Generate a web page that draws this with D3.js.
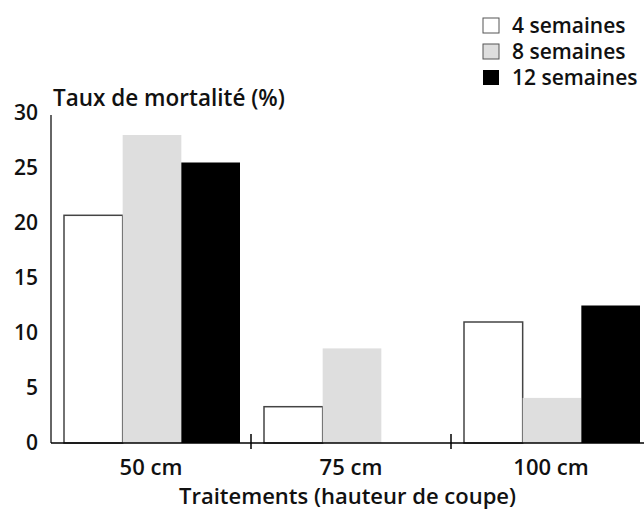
<!DOCTYPE html>
<html lang="fr">
<head>
    <meta charset="UTF-8">
    <title>Taux de mortalité</title>
    <script src="https://d3js.org/d3.v7.min.js"></script>
    <style>
        body {margin:0;background:#fff}
        text {font-family:"Open Sans", sans-serif;font-weight:600;fill:#111}
    </style>
</head>
<body>
    <div id="chart"></div>
    <script>
        // data
        var categories = ["50 cm", "75 cm", "100 cm"];
        var series = ["4 semaines", "8 semaines", "12 semaines"];
        var semaines4 = [20.7, 3.3, 11.0];
        var semaines8 = [28.0, 8.6, 4.1];
        var semaines12 = [25.5, 0, 12.5];
        var yTicks = [0, 5, 10, 15, 20, 25, 30];

        var w = 644, h = 511;
        var fills = {"4 semaines": "#fff", "8 semaines": "#dedede", "12 semaines": "#000"};
        var strokes = {"4 semaines": "#444", "8 semaines": "none", "12 semaines": "none"};

        var rows = categories.map(function(c, i) {
            return {cat: c, values: [
                {key: series[0], value: semaines4[i]},
                {key: series[1], value: semaines8[i]},
                {key: series[2], value: semaines12[i]}
            ]};
        });

        var svg = d3.select("#chart")
            .append("svg")
            .attr("width", w)
            .attr("height", h);

        var x0 = d3.scaleBand()
            .domain(categories)
            .range([51, 651]);

        var x1 = d3.scaleBand()
            .domain(series)
            .range([13, 189]);

        var y = d3.scaleLinear()
            .domain([0, 30])
            .range([443, 113]);

        // bars
        var groups = svg.selectAll("g.grp")
            .data(rows)
            .enter()
            .append("g")
            .attr("class", "grp")
            .attr("transform", d => `translate(${x0(d.cat)},0)`);

        groups.selectAll("rect")
            .data(d => d.values.filter(v => v.value > 0))
            .enter()
            .append("rect")
            .attr("x", d => x1(d.key))
            .attr("y", d => y(d.value))
            .attr("width", x1.bandwidth())
            .attr("height", d => y(0) - y(d.value))
            .attr("fill", d => fills[d.key])
            .attr("stroke", d => strokes[d.key])
            .attr("stroke-width", 1.5);

        // y axis line
        svg.append("line")
            .attr("x1", 51).attr("x2", 51)
            .attr("y1", y(30) + 2).attr("y2", y(0))
            .attr("stroke", "#333")
            .attr("stroke-width", 1.5);

        // baseline
        svg.append("line")
            .attr("x1", 51).attr("x2", w)
            .attr("y1", y(0)).attr("y2", y(0))
            .attr("stroke", "#000")
            .attr("stroke-width", 1.5);

        // separators between groups
        svg.selectAll("line.sep")
            .data(categories.slice(1))
            .enter()
            .append("line")
            .attr("class", "sep")
            .attr("x1", d => x0(d)).attr("x2", d => x0(d))
            .attr("y1", y(0) - 9).attr("y2", y(0) + 6)
            .attr("stroke", "#000")
            .attr("stroke-width", 1.5);

        // y tick labels
        svg.selectAll("text.ytick")
            .data(yTicks)
            .enter()
            .append("text")
            .attr("class", "ytick")
            .attr("x", 38)
            .attr("y", d => y(d) + 7)
            .attr("text-anchor", "end")
            .style("font-size", "21px")
            .text(d => d);

        // category labels
        svg.selectAll("text.cat")
            .data(categories)
            .enter()
            .append("text")
            .attr("class", "cat")
            .attr("x", d => x0(d) + x0.bandwidth() / 2)
            .attr("y", 475)
            .attr("text-anchor", "middle")
            .style("font-size", "22px")
            .text(d => d);

        svg.append("text")
            .attr("x", (51 + w) / 2)
            .attr("y", 504)
            .attr("text-anchor", "middle")
            .style("font-size", "22px")
            .text("Traitements (hauteur de coupe)");

        svg.append("text")
            .attr("x", 53)
            .attr("y", 106)
            .style("font-size", "22.5px")
            .text("Taux de mortalité (%)");

        // legend
        var legend = svg.selectAll("g.leg")
            .data(series)
            .enter()
            .append("g")
            .attr("class", "leg")
            .attr("transform", (d, i) => `translate(483,${18 + i * 26})`);

        legend.append("rect")
            .attr("width", 16)
            .attr("height", 15)
            .attr("fill", d => fills[d])
            .attr("stroke", d => d === "12 semaines" ? "none" : "#555")
            .attr("stroke-width", 1);

        legend.append("text")
            .attr("x", 29)
            .attr("y", 15)
            .style("font-size", "21px")
            .text(d => d);
    </script>
</body>
</html>
